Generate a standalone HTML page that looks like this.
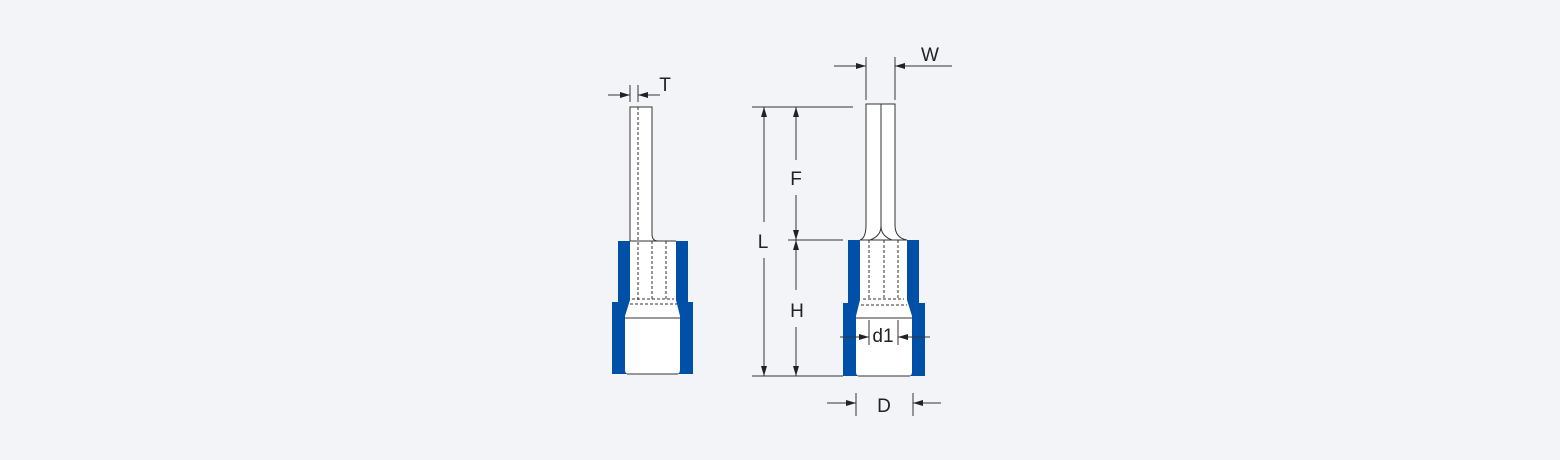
<!DOCTYPE html>
<html><head><style>html,body{margin:0;padding:0;background:#f3f4f8;}svg{display:block}</style></head><body>
<svg width="1560" height="460" viewBox="0 0 1560 460" xmlns="http://www.w3.org/2000/svg">
<defs><marker id="a" markerWidth="10" markerHeight="6" refX="10" refY="3" orient="auto" markerUnits="userSpaceOnUse"><path d="M0,0 L10,3 L0,6 z" fill="#222"/></marker></defs>
<rect width="1560" height="460" fill="#f3f4f8"/>
<g stroke="#333" stroke-width="1" fill="none">
<!-- LEFT -->
<path d="M618,241 H688 V302 H693 V374 H612 V302 H618 Z" fill="#0050a8" stroke="none"/>
<path d="M630,241 H676 V300 L680,316 V370 Q680,374 676,374 H629 Q625,374 625,370 V316 L630,300 Z" fill="#fff" stroke="none"/>
<path d="M630,107 H652 V234 Q652,241 658,241 H630 Z" fill="#fff" stroke="none"/>
<path d="M630,241 V107 H652 V234 Q652,241 658,241" />
<line x1="630" y1="241" x2="676" y2="241"/>
<line x1="625" y1="318" x2="680" y2="318"/>
<line x1="627" y1="374" x2="678" y2="374"/>
<g stroke-dasharray="3,2"><line x1="638" y1="107" x2="638" y2="300"/><line x1="652" y1="241" x2="652" y2="300"/><line x1="666" y1="241" x2="666" y2="300"/><path d="M632,299 H674 M630,304 H677"/></g>
<!-- RIGHT -->
<path d="M848,240 H919 V303 H925 V376 H843 V303 H848 Z" fill="#0050a8" stroke="none"/>
<path d="M860,240 H907 V300 L912,316 V372 Q912,376 908,376 H860 Q856,376 856,372 V316 L860,300 Z" fill="#fff" stroke="none"/>
<path d="M866,104 H895 V225 Q895,238 907,240 H860 Q866,238 866,225 Z" fill="#fff" stroke="none"/>
<path d="M866,225 V104 H895 V225 Q895,238 907,240 M866,225 Q866,238 860,240 M881,104 V226 Q881,236 870,240 M881,226 Q881,236 892,240"/>
<line x1="860" y1="240" x2="907" y2="240"/>
<line x1="856" y1="318" x2="912" y2="318"/>
<line x1="858" y1="376" x2="910" y2="376"/>
<g stroke-dasharray="3,2"><line x1="869" y1="240" x2="869" y2="300"/><line x1="884" y1="240" x2="884" y2="300"/><line x1="898" y1="240" x2="898" y2="300"/><path d="M863,299 H904 M861,305 H907"/></g>
<!-- dims -->
<line x1="630" y1="85" x2="630" y2="102"/><line x1="638" y1="85" x2="638" y2="102"/>
<line x1="608" y1="95" x2="630" y2="95" marker-end="url(#a)"/><line x1="660" y1="95" x2="638" y2="95" marker-end="url(#a)"/>
<line x1="866" y1="57" x2="866" y2="100"/><line x1="895" y1="57" x2="895" y2="100"/>
<line x1="834" y1="66" x2="866" y2="66" marker-end="url(#a)"/><line x1="952" y1="66" x2="895" y2="66" marker-end="url(#a)"/>
<line x1="752" y1="107" x2="853" y2="107"/><line x1="752" y1="376" x2="843" y2="376"/><line x1="788" y1="240" x2="843" y2="240"/>
<line x1="764" y1="222" x2="764" y2="107" marker-end="url(#a)"/><line x1="764" y1="258" x2="764" y2="376" marker-end="url(#a)"/>
<line x1="796" y1="160" x2="796" y2="107" marker-end="url(#a)"/><line x1="796" y1="195" x2="796" y2="240" marker-end="url(#a)"/>
<line x1="796" y1="290" x2="796" y2="240" marker-end="url(#a)"/><line x1="796" y1="327" x2="796" y2="376" marker-end="url(#a)"/>
<line x1="869" y1="320" x2="869" y2="345"/><line x1="898" y1="320" x2="898" y2="345"/>
<line x1="840" y1="337" x2="869" y2="337" marker-end="url(#a)"/><line x1="930" y1="337" x2="898" y2="337" marker-end="url(#a)"/>
<line x1="856" y1="393" x2="856" y2="416"/><line x1="913" y1="393" x2="913" y2="416"/>
<line x1="827" y1="403" x2="856" y2="403" marker-end="url(#a)"/><line x1="941" y1="403" x2="913" y2="403" marker-end="url(#a)"/>
</g>
<g font-family="Liberation Sans, sans-serif" font-size="19" fill="#222" text-anchor="middle">
<text x="665" y="91">T</text><text x="930" y="61">W</text>
<text x="763" y="248">L</text><text x="796" y="185">F</text><text x="797" y="317">H</text>
<text x="883" y="342">d1</text><text x="884" y="412">D</text>
</g>
</svg>
</body></html>
